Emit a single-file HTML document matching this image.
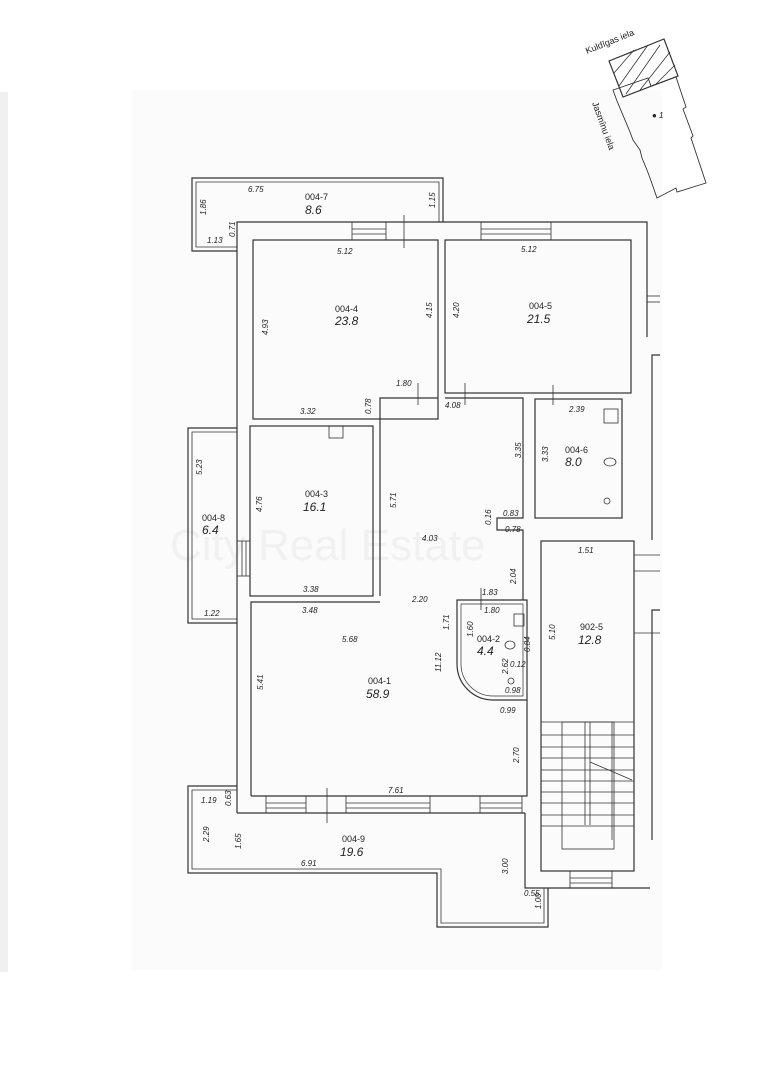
<!DOCTYPE html>
<html><head><meta charset="utf-8"><style>
html,body{margin:0;padding:0;background:#fff;}
svg{display:block;}
text{font-family:"Liberation Sans",sans-serif;fill:#222;}
.d{font-size:8px;font-style:italic;}
.n{font-size:9px;}
.a{font-size:12px;font-style:italic;}
</style></head><body>
<svg width="784" height="1073" viewBox="0 0 784 1073" xmlns="http://www.w3.org/2000/svg">
<rect x="0" y="0" width="784" height="1073" fill="#fff"/>
<rect x="132" y="90" width="530" height="880" fill="#fbfbfb"/>
<rect x="0" y="92" width="8" height="880" fill="#f0f0f0"/>
<text x="170" y="560" font-size="44" style="fill:#f1f1f1" font-family="Liberation Sans">City Real Estate</text>
<g fill="none" stroke="#333" stroke-width="1.2">
<!-- compass -->
<polygon points="609,61 664,39 678,76 623,97" />
<g stroke-width="0.8">
<line x1="614" y1="73" x2="634" y2="50"/><line x1="619" y1="86" x2="648" y2="45"/><line x1="626" y1="94" x2="660" y2="45"/><line x1="640" y1="90" x2="670" y2="52"/><line x1="655" y1="85" x2="675" y2="65"/>
</g>
<polygon points="613,90 648,78 651,86 676,77 686,107 683,109 693,136 691,138 706,183 677,192 676,188 657,198 650,178 647,170 642,158 640,150 633,140 630,132 617,101" stroke-width="0.9"/>
<!-- balcony 004-7 -->
<polyline points="237,251 192,251 192,178 443,178 443,222"/>
<polyline points="237,247 196,247 196,182 439,182 439,222" stroke-width="0.8"/>
<!-- balcony 004-8 -->
<polyline points="237,428 188,428 188,623 237,623"/>
<polyline points="237,432 192,432 192,619 237,619" stroke-width="0.8"/>
<!-- balcony 004-9 -->
<polyline points="237,786 188,786 188,873 437,873 437,927 548,927 548,888"/>
<polyline points="237,790 192,790 192,869 441,869 441,923 544,923 544,888" stroke-width="0.8"/>
<!-- outer building -->
<polyline points="237,813 237,222 647,222 647,300"/>
<polyline points="647,337 647,300"/>
<line x1="237" y1="813" x2="525" y2="813"/>
<polyline points="525,813 525,888 650,888"/>
<polyline points="660,355 652,355 652,540"/>
<polyline points="660,610 652,610 652,840"/>
<!-- rooms -->
<rect x="253" y="240" width="185" height="179"/>
<rect x="445" y="240" width="186" height="153"/>
<rect x="250" y="426" width="123" height="170"/>
<polyline points="380,596 380,398 438,398"/>
<polyline points="445,398 523,398 523,518 497,518 497,530 523,530 523,600"/>
<rect x="535" y="399" width="87" height="119"/>
<polyline points="251,796 251,602 380,602"/>
<polyline points="527,700 527,796 251,796"/>
<path d="M461,600 L527,600 L527,700 L493,700 A36,36 0 0 1 457,664 L457,600 Z"/>
<path d="M465,604 L523,604 L523,696 L493,696 A32,32 0 0 1 461,664 L461,604 Z" stroke-width="0.7"/>
<rect x="541" y="541" width="93" height="330"/>
<!-- stairs -->
<g stroke-width="0.8">
<line x1="541" y1="722" x2="634" y2="722"/>
<line x1="541" y1="735" x2="634" y2="735"/><line x1="541" y1="747" x2="634" y2="747"/><line x1="541" y1="758" x2="634" y2="758"/><line x1="541" y1="770" x2="634" y2="770"/><line x1="541" y1="781" x2="634" y2="781"/><line x1="541" y1="792" x2="634" y2="792"/><line x1="541" y1="803" x2="634" y2="803"/><line x1="541" y1="815" x2="634" y2="815"/><line x1="541" y1="826" x2="634" y2="826"/>
<rect x="562" y="722" width="52" height="127"/>
<line x1="585" y1="722" x2="585" y2="825"/><line x1="590" y1="722" x2="590" y2="825"/>
<line x1="612" y1="722" x2="612" y2="840"/>
<line x1="590" y1="762" x2="632" y2="780"/>
</g>
<!-- windows -->
<g stroke-width="0.8">
<rect x="352" y="222" width="34" height="18"/><line x1="352" y1="229" x2="386" y2="229"/><line x1="352" y1="234" x2="386" y2="234"/>
<rect x="481" y="222" width="70" height="18"/><line x1="481" y1="229" x2="551" y2="229"/><line x1="481" y1="234" x2="551" y2="234"/>
<line x1="404" y1="215" x2="404" y2="248"/>
<rect x="266" y="796" width="40" height="17"/><line x1="266" y1="803" x2="306" y2="803"/><line x1="266" y1="808" x2="306" y2="808"/>
<rect x="346" y="796" width="84" height="17"/><line x1="346" y1="803" x2="430" y2="803"/><line x1="346" y1="808" x2="430" y2="808"/>
<rect x="480" y="796" width="42" height="17"/><line x1="480" y1="803" x2="522" y2="803"/><line x1="480" y1="808" x2="522" y2="808"/>
<line x1="327" y1="788" x2="327" y2="823"/>
<rect x="237" y="541" width="13" height="35"/><line x1="242" y1="541" x2="242" y2="576"/><line x1="246" y1="541" x2="246" y2="576"/>
<rect x="570" y="871" width="42" height="17"/><line x1="570" y1="878" x2="612" y2="878"/><line x1="570" y1="883" x2="612" y2="883"/>
<line x1="418" y1="383" x2="418" y2="405"/><line x1="465" y1="383" x2="465" y2="405"/><line x1="553" y1="385" x2="553" y2="405"/><line x1="481" y1="588" x2="481" y2="610"/>
<line x1="647" y1="296" x2="660" y2="296"/><line x1="647" y1="302" x2="660" y2="302"/>
<line x1="634" y1="555" x2="660" y2="555"/><line x1="634" y1="571" x2="660" y2="571"/><line x1="634" y1="633" x2="660" y2="633"/>
<rect x="329" y="426" width="14" height="12"/>
<rect x="604" y="409" width="14" height="14"/>
<ellipse cx="610" cy="462" rx="6" ry="4"/>
<circle cx="607" cy="501" r="3"/>
<rect x="514" y="614" width="10" height="12"/>
<ellipse cx="510" cy="645" rx="5" ry="4"/>
<circle cx="511" cy="681" r="3"/>
</g>
</g>
<!-- labels -->
<text class="n" x="587" y="54" transform="rotate(-22 587 54)" font-size="10">Kuldīgas iela</text>
<text class="n" x="592" y="103" transform="rotate(70 592 103)" font-size="10">Jasmīnu iela</text>
<text class="d" x="652" y="118">● 1</text>

<text class="d" x="248" y="192">6.75</text>
<text class="n" x="305" y="200">004-7</text><text class="a" x="305" y="214">8.6</text>
<text class="d" x="206" y="215" transform="rotate(-90 206 215)">1.86</text>
<text class="d" x="435" y="208" transform="rotate(-90 435 208)">1.15</text>
<text class="d" x="207" y="243">1.13</text>
<text class="d" x="235" y="237" transform="rotate(-90 235 237)" font-size="6">0.71</text>

<text class="d" x="337" y="254">5.12</text>
<text class="n" x="335" y="312">004-4</text><text class="a" x="335" y="325">23.8</text>
<text class="d" x="268" y="335" transform="rotate(-90 268 335)">4.93</text>
<text class="d" x="432" y="318" transform="rotate(-90 432 318)">4.15</text>
<text class="d" x="300" y="414">3.32</text>
<text class="d" x="371" y="414" transform="rotate(-90 371 414)" font-size="6">0.78</text>
<text class="d" x="396" y="386">1.80</text>

<text class="d" x="521" y="252">5.12</text>
<text class="n" x="529" y="309">004-5</text><text class="a" x="527" y="323">21.5</text>
<text class="d" x="459" y="318" transform="rotate(-90 459 318)">4.20</text>

<text class="d" x="445" y="408">4.08</text>
<text class="d" x="521" y="458" transform="rotate(-90 521 458)">3.35</text>
<text class="d" x="396" y="508" transform="rotate(-90 396 508)">5.71</text>
<text class="d" x="422" y="541">4.03</text>
<text class="d" x="491" y="525" transform="rotate(-90 491 525)" font-size="6">0.16</text>
<text class="d" x="503" y="516" font-size="7">0.83</text>
<text class="d" x="505" y="532" font-size="6">0.78</text>

<text class="d" x="569" y="412">2.39</text>
<text class="d" x="548" y="462" transform="rotate(-90 548 462)">3.33</text>
<text class="n" x="565" y="453">004-6</text><text class="a" x="565" y="466">8.0</text>

<text class="n" x="305" y="497">004-3</text><text class="a" x="303" y="511">16.1</text>
<text class="d" x="262" y="512" transform="rotate(-90 262 512)">4.76</text>
<text class="d" x="303" y="592">3.38</text>
<text class="d" x="202" y="475" transform="rotate(-90 202 475)">5.23</text>
<text class="n" x="202" y="521" fill="#666">004-8</text><text class="a" x="202" y="534" fill="#666">6.4</text>
<text class="d" x="204" y="616">1.22</text>

<text class="d" x="302" y="613">3.48</text>
<text class="d" x="412" y="602">2.20</text>
<text class="d" x="482" y="595">1.83</text>
<text class="d" x="484" y="613">1.80</text>
<text class="d" x="516" y="584" transform="rotate(-90 516 584)">2.04</text>
<text class="d" x="449" y="630" transform="rotate(-90 449 630)">1.71</text>
<text class="d" x="473" y="637" transform="rotate(-90 473 637)">1.60</text>
<text class="n" x="477" y="642">004-2</text><text class="a" x="477" y="655">4.4</text>
<text class="d" x="530" y="652" transform="rotate(-90 530 652)" font-size="6">0.84</text>
<text class="d" x="510" y="667" font-size="6">0.12</text>
<text class="d" x="508" y="674" transform="rotate(-90 508 674)" font-size="7">2.62</text>
<text class="d" x="505" y="693">0.98</text>
<text class="d" x="500" y="713">0.99</text>
<text class="d" x="342" y="642">5.68</text>
<text class="d" x="441" y="672" transform="rotate(-90 441 672)">11.12</text>
<text class="n" x="368" y="684">004-1</text><text class="a" x="366" y="698">58.9</text>
<text class="d" x="263" y="690" transform="rotate(-90 263 690)">5.41</text>
<text class="d" x="519" y="763" transform="rotate(-90 519 763)">2.70</text>
<text class="d" x="388" y="793">7.61</text>

<text class="d" x="578" y="553">1.51</text>
<text class="d" x="555" y="640" transform="rotate(-90 555 640)">5.10</text>
<text class="n" x="580" y="630">902-5</text><text class="a" x="578" y="644">12.8</text>

<text class="d" x="201" y="803">1.19</text>
<text class="d" x="231" y="806" transform="rotate(-90 231 806)" font-size="6">0.63</text>
<text class="d" x="209" y="842" transform="rotate(-90 209 842)">2.29</text>
<text class="d" x="241" y="849" transform="rotate(-90 241 849)">1.65</text>
<text class="n" x="342" y="842">004-9</text><text class="a" x="340" y="856">19.6</text>
<text class="d" x="301" y="866">6.91</text>
<text class="d" x="508" y="874" transform="rotate(-90 508 874)">3.00</text>
<text class="d" x="524" y="896" font-size="7">0.55</text>
<text class="d" x="541" y="909" transform="rotate(-90 541 909)" font-size="7">1.00</text>
</svg>
</body></html>
